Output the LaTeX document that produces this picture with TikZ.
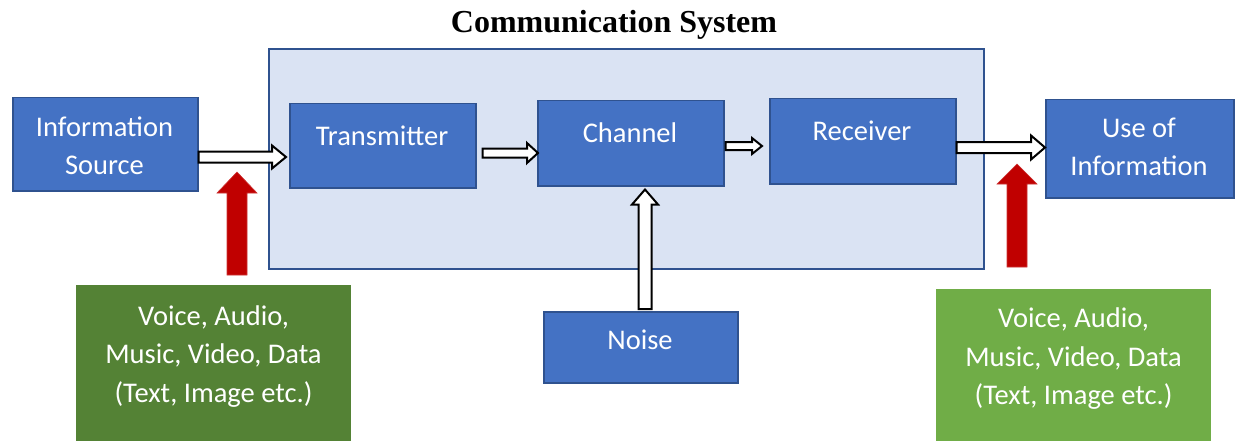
\documentclass[tikz,border=0pt]{standalone}
\usepackage{fontspec}
\setmainfont{Carlito}
\newfontfamily\titlefont{Liberation Serif}
\usetikzlibrary{calc}
\definecolor{boxblue}{HTML}{4472C4}
\definecolor{boxedge}{HTML}{2F528F}
\definecolor{sysfill}{HTML}{DAE3F3}
\definecolor{darkgreen}{HTML}{548235}
\definecolor{lightgreen}{HTML}{70AD47}
\definecolor{redarrow}{HTML}{C00000}
% horizontal block arrow: style, from, to, y, shaft half, head half, head length
\newcommand\HArrow[7]{\draw[#1] let \p1=(#2), \p2=(#3), \p3=(0,#4) in
  (\x1,\y3+#5pt) -- (\x2-#7pt,\y3+#5pt) -- (\x2-#7pt,\y3+#6pt) -- (\x2,\y3)
  -- (\x2-#7pt,\y3-#6pt) -- (\x2-#7pt,\y3-#5pt) -- (\x1,\y3-#5pt) -- cycle;}
% vertical (upward) block arrow: style, from (bottom), to (tip), x, shaft half, head half, head length
\newcommand\VArrow[7]{\draw[#1] let \p1=(#2), \p2=(#3), \p3=(#4,0) in
  (\x3-#5pt,\y1) -- (\x3-#5pt,\y2-#7pt) -- (\x3-#6pt,\y2-#7pt) -- (\x3,\y2)
  -- (\x3+#6pt,\y2-#7pt) -- (\x3+#5pt,\y2-#7pt) -- (\x3+#5pt,\y1) -- cycle;}
\tikzset{
  bbox/.style={draw=boxedge, line width=1.5pt, fill=boxblue, inner sep=0pt, anchor=north west},
  sysbox/.style={draw=boxedge, line width=2pt, fill=sysfill, inner sep=0pt, anchor=north west},
  gbox/.style={inner sep=0pt, anchor=north west},
  btext/.style={text=white, inner sep=0pt, align=center, font=\fontsize{28.5}{38.5}\selectfont},
  hollow/.style={draw=black, fill=white, line width=2pt, line join=miter},
  redfill/.style={fill=redarrow, draw=redarrow!80!white, line width=0.6pt},
}
\begin{document}
\begin{tikzpicture}[x=1pt, y=-1pt]
\useasboundingbox (0,0) rectangle (1238,441);
% title
\node[font=\titlefont\bfseries\fontsize{32}{36}\selectfont, anchor=base, inner sep=0pt] (title) at (614,33) {Communication System};
% system box
\node[sysbox, minimum width=715pt, minimum height=220pt] (sys) at (268,48) {};
% blue boxes
\node[bbox, minimum width=185pt, minimum height=93pt] (src) at (12,97) {};
\node[bbox, minimum width=186pt, minimum height=84pt] (tx) at (289,103) {};
\node[bbox, minimum width=186pt, minimum height=85pt] (ch) at (537,100) {};
\node[bbox, minimum width=186pt, minimum height=85pt] (rx) at (769,98) {};
\node[bbox, minimum width=188pt, minimum height=98pt] (use) at (1045,99) {};
\node[bbox, minimum width=194pt, minimum height=71pt] (noise) at (543,311) {};
% green boxes
\node[gbox, fill=darkgreen, minimum width=275pt, minimum height=156pt] (g1) at (76,285) {};
\node[gbox, fill=lightgreen, minimum width=275pt, minimum height=152pt] (g2) at (936,289) {};
% texts
\node[btext] (srct) at (104.5,146) {Information\\Source};
\node[btext, anchor=base] (txt) at (382,145) {Transmitter};
\node[btext, anchor=base] (cht) at (630,142) {Channel};
\node[btext, anchor=base] (rxt) at (862,140) {Receiver};
\node[btext] (uset) at (1139,147) {Use of\\Information};
\node[btext, anchor=base] (noiset) at (640,349) {Noise};
\node[btext] (g1t) at (213.5,356.5) {Voice, Audio,\\Music, Video, Data\\(Text, Image etc.)};
\node[btext] (g2t) at (1073.5,359) {Voice, Audio,\\Music, Video, Data\\(Text, Image etc.)};
% hollow arrows
\HArrow{hollow}{src.east}{$(tx.west)+(-3,0)$}{157}{5.5}{11.5}{14}
\HArrow{hollow}{$(tx.east)+(6,0)$}{$(ch.west)+(1,0)$}{153}{4.5}{10}{11}
\HArrow{hollow}{$(ch.east)+(1,0)$}{$(rx.west)+(-7,0)$}{146}{4}{8}{10}
\HArrow{hollow}{rx.east}{use.west}{147.5}{5.5}{12}{14}
\VArrow{hollow}{$(noise.north)+(0,-2)$}{$(ch.south)+(0,3)$}{645}{6.5}{13}{15}
% red arrows
\coordinate (r1b) at (237,275);
\coordinate (r1t) at (237,172);
\coordinate (r2b) at (1017,267);
\coordinate (r2t) at (1017,164);
\VArrow{redfill}{r1b}{r1t}{237}{10}{20}{21}
\VArrow{redfill}{r2b}{r2t}{1017}{10}{20}{20}
\end{tikzpicture}
\end{document}
